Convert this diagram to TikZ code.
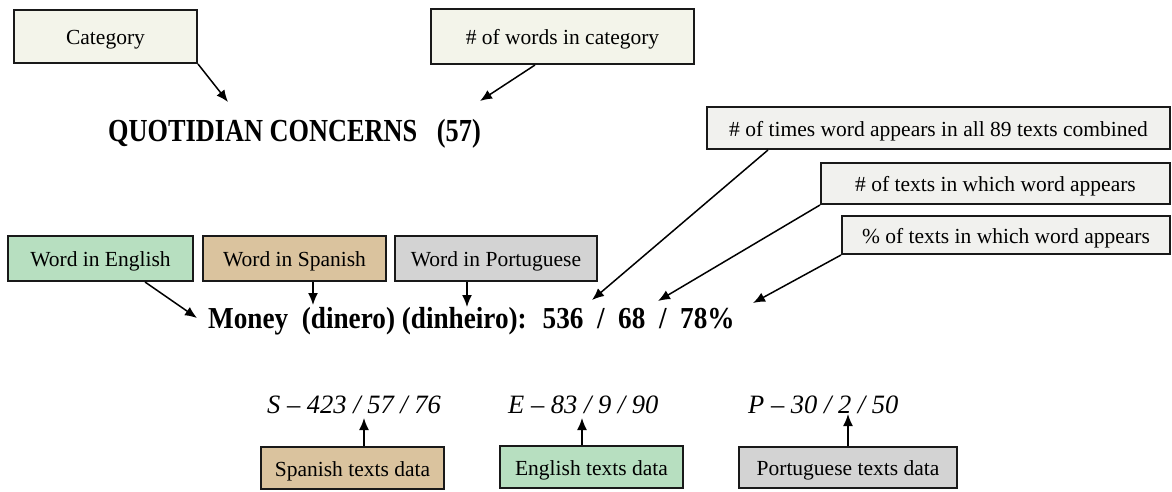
\documentclass[tikz,border=0pt]{standalone}
\usepackage{graphicx}
\usepackage{fontspec}
\setmainfont{Liberation Serif}
\usetikzlibrary{arrows.meta,calc}
\definecolor{cream}{HTML}{F3F4EA}
\definecolor{lightg}{HTML}{F1F1EE}
\definecolor{greenb}{HTML}{B7DFC0}
\definecolor{tanb}{HTML}{DAC39E}
\definecolor{grayb}{HTML}{D3D3D3}
\tikzset{
  lbl/.style={draw=black!90, line width=2pt, inner sep=0pt, text height=16.5pt, text depth=0.5pt, font=\fontsize{21.5}{25}\selectfont},
  conn/.style={line width=1.5pt, -{Latex[length=12pt,width=10pt]}},
  head/.style={font=\bfseries, inner sep=0pt, anchor=base west},
  dat/.style={font=\itshape\fontsize{26.5}{30}\selectfont, inner sep=0pt, anchor=base west}
}
\begin{document}
\begin{tikzpicture}[x=1pt,y=-1pt]
\useasboundingbox (0,0) rectangle (1172,491);
% top boxes
\node[lbl, fill=cream, minimum width=183pt, minimum height=53pt] (cat) at (105.5,36.5) {Category};
\node[lbl, fill=cream, minimum width=263pt, minimum height=55pt] (nwords) at (562.5,36.5) {\# of words in category};
\node[head] (quot) at (108,141) {\scalebox{1}[1.22]{\fontsize{26.3}{30}\selectfont QUOTIDIAN CONCERNS \ \ (57)}};
\coordinate (tq1) at (228,102);
\coordinate (tq2) at (480,101);
\draw[conn] (cat.south east) -- (tq1);
\draw[conn] ($(nwords.south)+(-27.5,0)$) -- (tq2);
% right boxes
\node[lbl, fill=lightg, minimum width=463pt, minimum height=42pt] (times) at (938.5,128) {\# of times word appears in all 89 texts combined};
\node[lbl, fill=lightg, minimum width=349pt, minimum height=41pt] (ntexts) at (995.5,183.5) {\# of texts in which word appears};
\node[lbl, fill=lightg, minimum width=328pt, minimum height=38pt] (pct) at (1006,235) {\% of texts in which word appears};
% word boxes
\node[lbl, fill=greenb, minimum width=185pt, minimum height=45pt] (eng) at (100.5,258.5) {Word in English};
\node[lbl, fill=tanb, minimum width=183pt, minimum height=45pt] (spa) at (294.5,258.5) {Word in Spanish};
\node[lbl, fill=grayb, minimum width=202pt, minimum height=45pt] (por) at (496,258.5) {Word in Portuguese};
\node[head] (money) at (208,328) {\scalebox{1}[1.12]{\fontsize{27.2}{31}\selectfont Money \ (dinero) (dinheiro): \ 536 \ / \ 68 \ / \ 78\%}};
\coordinate (te) at (197,318);
\coordinate (ts) at (313,305);
\coordinate (tp) at (467,307);
\coordinate (t1) at (592,300);
\coordinate (t2) at (658,301);
\coordinate (t3) at (753,303);
\draw[conn] ($(eng.south)+(44.5,0)$) -- (te);
\draw[conn] (spa.south -| ts) -- (ts);
\draw[conn] (por.south -| tp) -- (tp);
\draw[conn] ($(times.south west)+(62,0)$) -- (t1);
\draw[conn] (ntexts.south west) -- (t2);
\draw[conn] (pct.south west) -- (t3);
% bottom data
\node[dat] (sd) at (267,413) {S – 423 / 57 / 76};
\node[dat] (ed) at (508,413) {E – 83 / 9 / 90};
\node[dat] (pd) at (748,413) {P – 30 / 2 / 50};
\node[lbl, fill=tanb, minimum width=183pt, minimum height=42pt] (sbox) at (352.5,468) {Spanish texts data};
\node[lbl, fill=greenb, minimum width=183pt, minimum height=42pt] (ebox) at (591.5,467) {English texts data};
\node[lbl, fill=grayb, minimum width=218pt, minimum height=41pt] (pbox) at (848,467.5) {Portuguese texts data};
\coordinate (us) at (364,418);
\coordinate (ue) at (582,418);
\coordinate (up) at (848,414);
\draw[conn] (sbox.north -| us) -- (us);
\draw[conn] (ebox.north -| ue) -- (ue);
\draw[conn] (pbox.north -| up) -- (up);
\end{tikzpicture}
\end{document}
